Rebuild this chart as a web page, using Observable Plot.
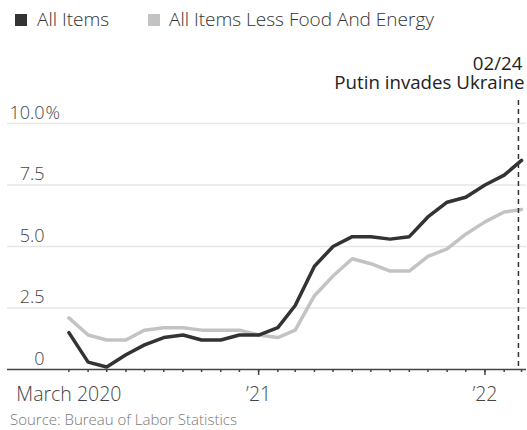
<!DOCTYPE html>
<html><head><meta charset="utf-8">
<script src="https://cdn.jsdelivr.net/npm/d3@7"></script>
<script src="https://cdn.jsdelivr.net/npm/@observablehq/plot@0.6"></script>
<style>
body{margin:0;background:#fff;width:527px;height:430px;overflow:hidden;font-family:"Open Sans","Noto Sans",sans-serif;position:relative;}
#legend{position:relative;height:40px;font-size:19px;color:#333;font-weight:300;}
.item{position:absolute;top:10px;line-height:19px;white-space:nowrap;}
.sw{position:absolute;width:12px;height:12px;top:13.5px;}
#chart{position:absolute;top:40px;left:0;}
#source{position:absolute;left:10px;top:412px;font-size:15px;line-height:15px;color:#777;font-weight:300;white-space:nowrap;}
</style></head>
<body>
<div id="legend"></div>
<div id="chart"></div>
<div id="source"></div>
<script>
const months = ["2020-03-01","2020-04-01","2020-05-01","2020-06-01","2020-07-01","2020-08-01","2020-09-01","2020-10-01","2020-11-01","2020-12-01",
  "2021-01-01","2021-02-01","2021-03-01","2021-04-01","2021-05-01","2021-06-01","2021-07-01","2021-08-01","2021-09-01","2021-10-01","2021-11-01","2021-12-01",
  "2022-01-01","2022-02-01","2022-03-01"];
const allItems = [1.5,0.3,0.1,0.6,1.0,1.3,1.4,1.2,1.2,1.4,1.4,1.7,2.6,4.2,5.0,5.4,5.4,5.3,5.4,6.2,6.8,7.0,7.5,7.9,8.5];
const coreItems = [2.1,1.4,1.2,1.2,1.6,1.7,1.7,1.6,1.6,1.6,1.4,1.3,1.6,3.0,3.8,4.5,4.3,4.0,4.0,4.6,4.9,5.5,6.0,6.4,6.5];
const seriesNames = ["All Items","All Items Less Food And Energy"];
const seriesColors = ["#333333","#c3c3c5"];
const yTicks = [0,2.5,5,7.5,10];
const yTickLabels = ["0","2.5","5.0","7.5","10.0"];
const xTickDates = ["2020-03-01","2021-01-01","2022-01-01"];
const xTickLabels = ["March 2020","\u201921","\u201922"];
const xMajorTicks = ["2021-01-01","2022-01-01"];
const xDomain = ["2019-11-23","2022-03-09"];
const eventDate = ["2022-02-24"];
const eventLabels = ["02/24","Putin invades Ukraine"];
const sourceText = "Source: Bureau of Labor Statistics";

const parse = s => new Date(s + "T00:00:00Z");
const rows = months.flatMap((m,i)=>[
  {date:parse(m), value:allItems[i], series:seriesNames[0]},
  {date:parse(m), value:coreItems[i], series:seriesNames[1]}
]);

// legend
const legend = document.getElementById("legend");
const legendX = [[15,37],[148,169]];
seriesNames.forEach((n,i)=>{
  const sw = document.createElement("div"); sw.className="sw";
  sw.style.left = legendX[i][0]+"px"; sw.style.background = seriesColors[i];
  const t = document.createElement("div"); t.className="item";
  t.style.left = legendX[i][1]+"px"; t.textContent = n;
  legend.appendChild(sw); legend.appendChild(t);
});
document.getElementById("source").textContent = sourceText;

const font = "'Open Sans', 'Noto Sans', sans-serif";
const chart = Plot.plot({
  width:527, height:370,
  marginLeft:7, marginRight:1, marginTop:83, marginBottom:41,
  x:{type:"utc", domain:xDomain.map(parse)},
  y:{domain:[0,10], axis:null},
  style:{fontFamily:font, fontSize:"18px", color:"#333", background:"white", overflow:"visible"},
  marks:[
    Plot.ruleY(yTicks.filter(d=>d>0), {stroke:"#e6e6e6", strokeWidth:1.5}),
    Plot.text(yTicks, {y:d=>d, text:(d,i)=>yTickLabels[i], frameAnchor:"left", textAnchor:"end", lineAnchor:"bottom", dx:37, dy:-5, fill:"#444", fontWeight:300}),
    Plot.text([yTicks[yTicks.length-1]], {y:d=>d, text:()=>"%", frameAnchor:"left", textAnchor:"start", lineAnchor:"bottom", dx:38, dy:-5, fill:"#444", fontWeight:300}),
    Plot.line(rows.filter(d=>d.series===seriesNames[1]), {x:"date", y:"value", stroke:seriesColors[1], strokeWidth:3.5, strokeLinejoin:"round"}),
    Plot.line(rows.filter(d=>d.series===seriesNames[0]), {x:"date", y:"value", stroke:seriesColors[0], strokeWidth:3.5, strokeLinejoin:"round"}),
    Plot.ruleY([0], {stroke:"#444", strokeWidth:1.5}),
    Plot.axisX(months.map(parse), {anchor:"bottom", tickSize:3, tickFormat:()=>"", stroke:"#444", strokeWidth:1.5}),
    Plot.axisX(xMajorTicks.map(parse), {anchor:"bottom", tickSize:6, tickFormat:()=>"", stroke:"#444", strokeWidth:1.5}),
    Plot.text(xTickDates, {x:d=>parse(d), text:(d,i)=>xTickLabels[i], frameAnchor:"bottom", lineAnchor:"bottom", dy:31, fill:"#444", fontWeight:300, fontSize:19.5}),
    Plot.ruleX(eventDate, {x:d=>parse(d), stroke:"#333", strokeWidth:1.5, strokeDasharray:"5,4", insetTop:-23}),
    Plot.text(eventDate, {x:d=>parse(d), text:()=>eventLabels[0], frameAnchor:"top", textAnchor:"end", lineAnchor:"bottom", dy:-54, dx:4, fill:"#222", fontSize:18.7}),
    Plot.text(eventDate, {x:d=>parse(d), text:()=>eventLabels[1], frameAnchor:"top", textAnchor:"end", lineAnchor:"bottom", dy:-35, dx:6, fill:"#222", fontSize:18.7})
  ]
});
document.getElementById("chart").appendChild(chart);
</script>
</body></html>
